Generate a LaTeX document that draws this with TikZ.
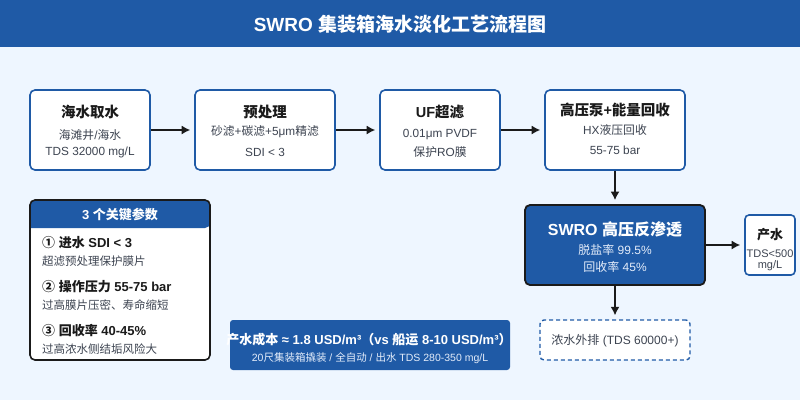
\documentclass[tikz,border=0pt]{standalone}
\usepackage{fontspec}
\setmainfont{Liberation Sans}
\newfontfamily\cjk{Noto Sans CJK SC}
\newcommand{\zh}[1]{{\cjk #1}}
\usetikzlibrary{arrows.meta}
\definecolor{mblue}{HTML}{1F5AA6}
\definecolor{bgc}{HTML}{EEF6FF}
\definecolor{tdark}{HTML}{1A1A1A}
\definecolor{tgray}{HTML}{3D4451}
\definecolor{tlight}{HTML}{E3ECFA}
\tikzset{
  procbox/.style={draw=mblue, line width=1.6pt, fill=white, rounded corners=5pt, minimum height=80pt, inner sep=0pt},
  ttl/.style={font=\bfseries\fontsize{14.5}{16}\selectfont, text=tdark, inner sep=0pt},
  sub/.style={font=\fontsize{11.8}{13}\selectfont, text=tgray, inner sep=0pt},
  arr/.style={-{Latex[length=8.5pt,width=9pt]}, line width=1.4pt, draw=tdark, shorten >=4pt},
  itm/.style={anchor=west, font=\bfseries\fontsize{13}{15}\selectfont, text=tdark, inner sep=0pt},
  itd/.style={anchor=west, font=\fontsize{11.5}{13}\selectfont, text=tgray, inner sep=0pt},
}
\begin{document}
\begin{tikzpicture}[x=1pt,y=-1pt]
\useasboundingbox (0,0) rectangle (800,400);
\fill[bgc] (0,0) rectangle (800,400);
\fill[mblue] (0,0) rectangle (800,47);
\node[font=\bfseries\fontsize{19}{22}\selectfont, text=white] (title) at (400,24) {SWRO \zh{集装箱海水淡化工艺流程图}};

% process boxes
\node[procbox, minimum width=120pt] (b1) at (90,130) {};
\node[ttl] (b1t) at (90,112) {\zh{海水取水}};
\node[sub] (b1a) at (90,135) {\zh{海滩井}/\zh{海水}};
\node[sub] (b1b) at (90,152) {TDS 32000 mg/L};

\node[procbox, minimum width=140pt] (b2) at (265,130) {};
\node[ttl] (b2t) at (265,112) {\zh{预处理}};
\node[sub] (b2a) at (265,132) {\zh{砂滤}+\zh{碳滤}+5μm\zh{精滤}};
\node[sub] (b2b) at (265,152) {SDI < 3};

\node[procbox, minimum width=120pt] (b3) at (440,130) {};
\node[ttl] (b3t) at (440,112) {UF\zh{超滤}};
\node[sub] (b3a) at (440,135) {0.01μm PVDF};
\node[sub] (b3b) at (440,152) {\zh{保护}RO\zh{膜}};

\node[procbox, minimum width=140pt] (b4) at (615,130) {};
\node[ttl] (b4t) at (615,110) {\zh{高压泵}+\zh{能量回收}};
\node[sub] (b4a) at (615,130) {HX\zh{液压回收}};
\node[sub] (b4b) at (615,150) {55-75 bar};

% SWRO
\node[draw=tdark, line width=1.8pt, fill=mblue, rounded corners=5pt, minimum width=180pt, minimum height=80pt] (ro) at (615,245) {};
\node[font=\bfseries\fontsize{16}{18}\selectfont, text=white, inner sep=0pt] (rot) at (615,229) {SWRO \zh{高压反渗透}};
\node[font=\fontsize{12}{14}\selectfont, text=tlight, inner sep=0pt] (roa) at (615,250) {\zh{脱盐率} 99.5\%};
\node[font=\fontsize{12}{14}\selectfont, text=tlight, inner sep=0pt] (rob) at (615,267) {\zh{回收率} 45\%};

% product
\node[draw=mblue, line width=1.6pt, fill=white, rounded corners=4pt, minimum width=50pt, minimum height=60pt] (pw) at (770,245) {};
\node[font=\bfseries\fontsize{13}{15}\selectfont, text=tdark, inner sep=0pt] (pwt) at (770,235) {\zh{产水}};
\node[font=\fontsize{11}{12}\selectfont, text=tgray, inner sep=0pt] (pwa) at (770,254) {TDS<500};
\node[font=\fontsize{11}{12}\selectfont, text=tgray, inner sep=0pt] (pwb) at (770,266) {mg/L};

% brine
\node[draw=mblue, line width=1.4pt, dashed, dash pattern=on 4pt off 3pt, fill=white, rounded corners=4pt, minimum width=150pt, minimum height=40pt] (br) at (615,340) {};
\node[font=\fontsize{12}{14}\selectfont, text=tgray, inner sep=0pt] (brt) at (615,341) {\zh{浓水外排} (TDS 60000+)};

% arrows
\draw[arr] (b1.east) -- (b2.west);
\draw[arr] (b2.east) -- (b3.west);
\draw[arr] (b3.east) -- (b4.west);
\draw[arr] (b4.south) -- (ro.north);
\draw[arr] (ro.east) -- (pw.west);
\draw[arr] (ro.south) -- (br.north);

% params panel
\node[fill=white, rounded corners=5pt, minimum width=180pt, minimum height=160pt, inner sep=0pt] (pp) at (120,280) {};
\fill[mblue, rounded corners=5pt] (30,228) -- (30,200) -- (210,200) -- (210,228) [sharp corners]-- cycle;
\draw[tdark, line width=1.6pt, rounded corners=5pt] (30,200) rectangle (210,360);
\node[font=\bfseries\fontsize{13}{15}\selectfont, text=white, inner sep=0pt] (ppt) at (120,214.5) {3 \zh{个关键参数}};
\node[itm] (i1) at (42,243) {\zh{①} \zh{进水} SDI < 3};
\node[itd] (i1d) at (42,261) {\zh{超滤预处理保护膜片}};
\node[itm] (i2) at (42,287) {\zh{②} \zh{操作压力} 55-75 bar};
\node[itd] (i2d) at (42,305) {\zh{过高膜片压密、寿命缩短}};
\node[itm] (i3) at (42,331) {\zh{③} \zh{回收率} 40-45\%};
\node[itd] (i3d) at (42,349) {\zh{过高浓水侧结垢风险大}};

% cost box
\node[fill=mblue, rounded corners=3pt, minimum width=280pt, minimum height=50pt] (cb) at (370,345) {};
\node[font=\bfseries\fontsize{13}{15}\selectfont, text=white, inner sep=0pt] (cbt) at (369,340) {\zh{产水成本} ≈ 1.8 USD/m³\zh{（}vs \zh{船运} 8-10 USD/m³\zh{）}};
\node[font=\fontsize{10.5}{12}\selectfont, text=tlight, inner sep=0pt] (cbs) at (370,358) {20\zh{尺集装箱撬装} / \zh{全自动} / \zh{出水} TDS 280-350 mg/L};
\end{tikzpicture}
\end{document}
